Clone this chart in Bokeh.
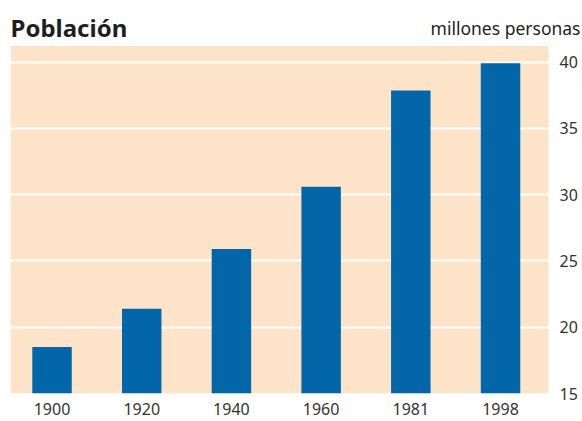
from bokeh.plotting import figure
from bokeh.models import Range1d, LinearAxis, FixedTicker, Label, BoxAnnotation
from bokeh.embed import file_html
from bokeh.resources import INLINE

years = ["1900", "1920", "1940", "1960", "1981", "1998"]
population = [18.5, 21.4, 25.9, 30.6, 37.85, 39.9]
y_ticks = [15, 20, 25, 30, 35, 40]
title_text = "Población"
unit_text = "millones personas"

FONT = "Noto Sans"
x_pos = list(range(len(years)))

p = figure(x_range=Range1d(-0.463, 5.914), y_range=Range1d(15, 44.64),
           frame_width=572, frame_height=393, title_location=None,
           output_backend="svg", toolbar_location=None,
           min_border_left=10, min_border_right=0, min_border_top=0, min_border_bottom=28)
p.background_fill_color = "white"
p.border_fill_color = "white"
p.outline_line_color = None

# peach plotting panel (ends at the value 41.2 and just right of the last bar)
panel = BoxAnnotation(right=5.535, top=41.2, fill_color="#fde4c9", fill_alpha=1.0,
                      line_color=None, level="image")
p.add_layout(panel)

p.vbar(x=x_pos, top=population, bottom=15, width=0.44, color="#0266a8", line_color=None)

p.yaxis.visible = False
yax = LinearAxis(ticker=FixedTicker(ticks=y_ticks))
yax.axis_line_color = None
yax.major_tick_line_color = None
yax.minor_tick_line_color = None
yax.major_tick_out = 0
yax.major_tick_in = 0
yax.major_label_text_font = FONT
yax.major_label_text_font_size = "16px"
yax.major_label_text_color = "#333333"
yax.major_label_standoff = -23
p.add_layout(yax, "right")

p.xaxis.ticker = FixedTicker(ticks=x_pos)
p.xaxis.major_label_overrides = {i: y for i, y in zip(x_pos, years)}
p.xaxis.axis_line_color = None
p.xaxis.major_tick_line_color = None
p.xaxis.minor_tick_line_color = None
p.xaxis.major_tick_out = 0
p.xaxis.major_tick_in = 0
p.xaxis.major_label_text_font = FONT
p.xaxis.major_label_text_font_size = "16px"
p.xaxis.major_label_text_color = "#333333"
p.xaxis.major_label_standoff = 9

p.xgrid.grid_line_color = None
p.ygrid.ticker = FixedTicker(ticks=y_ticks)
p.ygrid.grid_line_color = "white"
p.ygrid.grid_line_width = 2

p.add_layout(Label(x=0, y=366, x_units="screen", y_units="screen", text=title_text,
                   text_font=FONT, text_font_style="bold", text_font_size="24px",
                   text_color="#1e1e1e", text_baseline="alphabetic"))
p.add_layout(Label(x=570, y=366, x_units="screen", y_units="screen", text=unit_text,
                   text_font=FONT, text_font_size="17.5px", text_align="right",
                   text_color="#1e1e1e", text_baseline="alphabetic"))

open("out.html", "w").write(file_html(p, INLINE))
